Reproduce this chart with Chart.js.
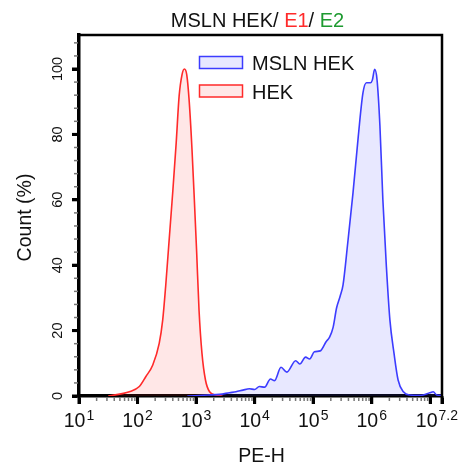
<!DOCTYPE html>
<html><head><meta charset="utf-8">
<script src="https://cdn.jsdelivr.net/npm/chart.js@4"></script>
<style>html,body{margin:0;padding:0;background:#fff}#wrap{width:459px;height:466px}</style>
</head><body><div id="wrap"><canvas id="c" width="459" height="466"></canvas></div>
<script>
// ---- data (x values are log10 of PE-H) ----
const titleParts = ['MSLN HEK/ ', 'E1', '/ ', 'E2'];
const titleColors = ['#111', '#ff2a2a', '#111', '#1e9a30'];
const seriesNames = ['MSLN HEK', 'HEK'];
const xTitle = 'PE-H';
const yTitle = 'Count (%)';
const xMajorExponents = [1, 2, 3, 4, 5, 6, 7, 7.2];
const xLabelExponents = [1, 2, 3, 4, 5, 6, 7.2];
const xLabelText = ['1', '2', '3', '4', '5', '6', '7.2'];
const yMajor = [0, 20, 40, 60, 80, 100];
const yTickLabels = ['0', '20', '40', '60', '80', '100'];

const hekX = [1.50, 1.86, 2.03, 2.14, 2.26, 2.37, 2.43, 2.48, 2.54, 2.60, 2.66, 2.71, 2.76, 2.80, 2.84, 2.88, 2.93, 2.97, 3.01, 3.05, 3.10, 3.16, 3.23, 3.34, 3.45];
const hekY = [0, 1.3, 2.9, 5.9, 9.5, 16.1, 23.3, 33.5, 47.8, 62.1, 77.4, 91.7, 98.3, 100, 98.3, 90.7, 75.4, 60, 43.8, 26.3, 13.1, 4.9, 1.3, 0.3, 0];

const mslnX = [2.85, 3.2, 3.4, 3.57, 3.68, 3.80, 3.91, 4.00, 4.08, 4.17, 4.27, 4.34, 4.45, 4.55, 4.70, 4.77, 4.87, 4.94, 5.02, 5.12, 5.22, 5.28, 5.34, 5.40, 5.46, 5.51, 5.59, 5.68, 5.77, 5.85, 5.91, 5.98, 6.01, 6.05, 6.09, 6.14, 6.19, 6.25, 6.31, 6.38, 6.45, 6.54, 6.65, 6.80, 6.88, 6.99, 7.05, 7.11, 7.2];
const mslnY = [0, 0.3, 0.5, 1.0, 1.3, 1.8, 2.2, 2.0, 2.9, 2.7, 5.2, 4.7, 8.8, 7.3, 10.8, 9.8, 11.9, 11.3, 13.5, 13.8, 16.6, 18.0, 21.0, 27.0, 30.5, 34.0, 46.8, 62.1, 79.4, 92.7, 95.8, 95.8, 96.6, 99.9, 96.8, 82.5, 60, 39.6, 23.3, 13.1, 4.9, 1.3, 0.3, 0.2, 0.3, 1.0, 1.3, 0.3, 0.2];

const FONT = "'Liberation Sans', Arial, sans-serif";
const TXT = '#111';

function pts(xs, ys) { return xs.map((x, i) => ({ x: x, y: ys[i] })); }

const overlay = {
  id: 'overlay',
  afterDraw(chart) {
    const ctx = chart.ctx, ca = chart.chartArea;
    const xs = chart.scales.x, ys = chart.scales.y;
    ctx.save();
    // frame top/right
    ctx.strokeStyle = '#000'; ctx.lineWidth = 2.5;
    ctx.beginPath();
    ctx.moveTo(ca.left - 1, ca.top); ctx.lineTo(ca.right, ca.top); ctx.lineTo(ca.right, ca.bottom + 1);
    ctx.stroke();
    // minor ticks x
    ctx.strokeStyle = '#777'; ctx.lineWidth = 1.5;
    for (let n = 1; n <= 7; n++) {
      for (let k = 2; k <= 9; k++) {
        const v = n + Math.log10(k);
        if (v >= xs.max) continue;
        const p = xs.getPixelForValue(v);
        ctx.beginPath(); ctx.moveTo(p, ca.bottom + 1); ctx.lineTo(p, ca.bottom + 5); ctx.stroke();
      }
    }
    // minor ticks y
    for (let v = 4; v < ys.max; v += 4) {
      if (v % 20 === 0) continue;
      const p = ys.getPixelForValue(v);
      ctx.beginPath(); ctx.moveTo(ca.left - 1, p); ctx.lineTo(ca.left - 5, p); ctx.stroke();
    }
    // major ticks (reinforced)
    ctx.strokeStyle = '#000'; ctx.lineWidth = 3;
    xMajorExponents.forEach(v => {
      const p = xs.getPixelForValue(v);
      ctx.beginPath(); ctx.moveTo(p, ca.bottom); ctx.lineTo(p, ca.bottom + 8); ctx.stroke();
    });
    yMajor.forEach(v => {
      const p = ys.getPixelForValue(v);
      ctx.beginPath(); ctx.moveTo(ca.left, p); ctx.lineTo(ca.left - 7, p); ctx.stroke();
    });
    ctx.fillStyle = TXT;
    // x tick labels 10^n
    xLabelExponents.forEach((v, i) => {
      const p = xs.getPixelForValue(v);
      ctx.font = '19.5px ' + FONT;
      const wb = ctx.measureText('10').width;
      ctx.font = '14px ' + FONT;
      const we = ctx.measureText(xLabelText[i]).width;
      const tot = wb + 1 + we;
      let sx = p - tot / 2;
      if (sx + tot > chart.width - 1) sx = chart.width - 1 - tot;
      ctx.textAlign = 'left'; ctx.textBaseline = 'alphabetic';
      ctx.font = '19.5px ' + FONT;
      ctx.fillText('10', sx, 427);
      ctx.font = '14px ' + FONT;
      ctx.fillText(xLabelText[i], sx + wb + 1, 420);
    });
    // y tick labels (rotated)
    ctx.font = '14.5px ' + FONT;
    yMajor.forEach((v, i) => {
      const p = ys.getPixelForValue(v);
      ctx.save(); ctx.translate(62, p); ctx.rotate(-Math.PI / 2);
      ctx.textAlign = 'center'; ctx.textBaseline = 'alphabetic';
      ctx.fillText(yTickLabels[i], 0, 0);
      ctx.restore();
    });
    // axis titles
    ctx.font = '19.5px ' + FONT;
    ctx.textAlign = 'center';
    ctx.fillText(xTitle, (ca.left + ca.right) / 2 + 1, 462);
    ctx.save(); ctx.translate(31, (ca.top + ca.bottom) / 2 + 2); ctx.rotate(-Math.PI / 2);
    ctx.fillText(yTitle, 0, 0); ctx.restore();
    // title
    ctx.font = '20px ' + FONT;
    const widths = titleParts.map(t => ctx.measureText(t).width);
    const totalW = widths.reduce((a, b) => a + b, 0);
    let tx = 257.5 - totalW / 2;
    ctx.textAlign = 'left';
    titleParts.forEach((t, i) => { ctx.fillStyle = titleColors[i]; ctx.fillText(t, tx, 27); tx += widths[i]; });
    // legend
    const rows = [56.5, 85];
    chart.data.datasets.forEach((ds, i) => {
      ctx.fillStyle = '#fff'; ctx.fillRect(199.5, rows[i], 43, 12);
      ctx.fillStyle = ds.backgroundColor; ctx.fillRect(199.5, rows[i], 43, 12);
      ctx.strokeStyle = ds.borderColor; ctx.lineWidth = 1.5; ctx.strokeRect(199.5, rows[i], 43, 12);
      ctx.fillStyle = TXT; ctx.font = '20px ' + FONT;
      ctx.fillText(ds.label, 252, rows[i] + 13.5);
    });
    ctx.restore();
  }
};

new Chart(document.getElementById('c'), {
  type: 'line',
  data: {
    datasets: [
      { label: seriesNames[0], data: pts(mslnX, mslnY), borderColor: '#3c3cff', backgroundColor: 'rgba(80,80,255,0.13)', fill: 'origin', borderWidth: 1.6, pointRadius: 0, cubicInterpolationMode: 'monotone' },
      { label: seriesNames[1], data: pts(hekX, hekY), borderColor: '#ff2a2a', backgroundColor: 'rgba(255,60,60,0.12)', fill: 'origin', borderWidth: 1.6, pointRadius: 0, cubicInterpolationMode: 'monotone' }
    ]
  },
  options: {
    responsive: false, animation: false, devicePixelRatio: 1,
    layout: { padding: { top: 35, right: 17, left: 0, bottom: 0 } },
    plugins: { legend: { display: false }, title: { display: false }, tooltip: { enabled: false } },
    scales: {
      x: {
        type: 'linear', min: 1, max: 7.2,
        afterBuildTicks: s => { s.ticks = xMajorExponents.map(v => ({ value: v })); },
        afterFit: s => { s.height = 70; },
        ticks: { display: false },
        grid: { display: true, drawOnChartArea: false, drawTicks: true, tickLength: 8, tickWidth: 3, tickColor: '#000' },
        border: { display: true, color: '#000', width: 3.5 }
      },
      y: {
        type: 'linear', min: 0, max: 110.4,
        afterBuildTicks: s => { s.ticks = yMajor.map(v => ({ value: v })); },
        afterFit: s => { s.width = 79; },
        ticks: { display: false },
        grid: { display: true, drawOnChartArea: false, drawTicks: true, tickLength: 7, tickWidth: 3, tickColor: '#000' },
        border: { display: true, color: '#000', width: 3.5 }
      }
    }
  },
  plugins: [overlay]
});
</script></body></html>
